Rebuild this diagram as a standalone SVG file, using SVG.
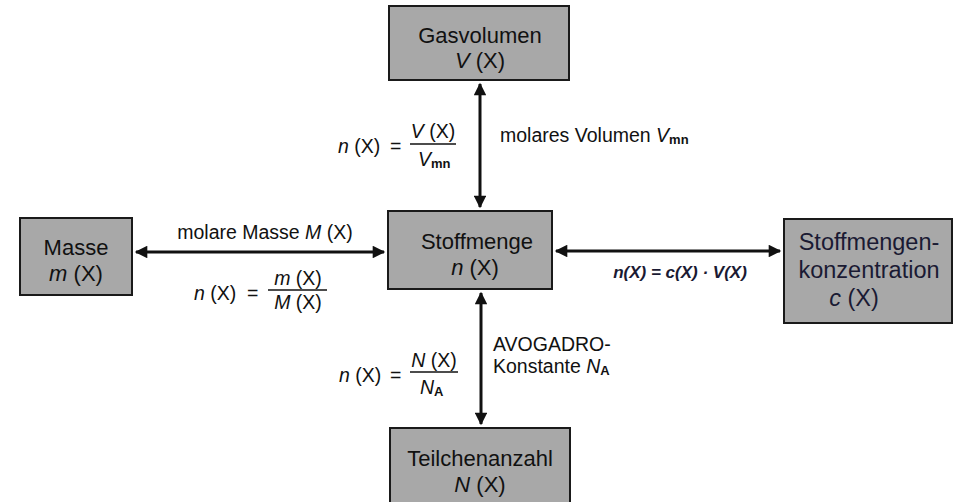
<svg xmlns="http://www.w3.org/2000/svg" width="960" height="502" viewBox="0 0 960 502">
<defs>
<style>
.box{fill:#a8a8a8;stroke:#1a1a1a;stroke-width:2}
.t{font-family:"Liberation Sans",Arial,sans-serif;font-size:22px;fill:#111;text-anchor:middle}
.k{font-size:23.5px;fill:#1a1a33}
.s{font-family:"Liberation Sans",Arial,sans-serif;font-size:19.5px;fill:#111}
.i{font-style:italic}
.sub{font-size:13px;font-weight:bold}
.ln{stroke:#111;stroke-width:3;fill:none}
.fr{stroke:#111;stroke-width:1.3}
</style>
<marker id="ah" viewBox="0 0 10 10" refX="9" refY="5" markerWidth="5.5" markerHeight="4.2" orient="auto-start-reverse" markerUnits="strokeWidth">
<path d="M0,0 L10,5 L0,10 z" fill="#111"/>
</marker>
</defs>
<rect width="960" height="502" fill="#fff"/>
<g id="gasvolumen">
<rect class="box" x="389" y="6" width="180" height="74"/>
<text class="t" x="480" y="43">Gasvolumen</text>
<text class="t" x="480" y="68"><tspan class="i">V</tspan> (X)</text>
</g>
<g id="stoffmenge">
<rect class="box" x="388" y="211" width="164" height="78"/>
<text class="t" x="477" y="249">Stoffmenge</text>
<text class="t" x="475" y="275"><tspan class="i">n</tspan> (X)</text>
</g>
<g id="masse">
<rect class="box" x="20" y="218" width="112" height="77"/>
<text class="t" x="76" y="255">Masse</text>
<text class="t" x="76" y="281"><tspan class="i">m</tspan> (X)</text>
</g>
<g id="konzentration">
<rect class="box" x="784" y="219" width="168" height="104"/>
<text class="t k" x="869" y="250">Stoffmengen-</text>
<text class="t k" x="869" y="278">konzentration</text>
<text class="t k" x="854" y="306"><tspan class="i">c</tspan> (X)</text>
</g>
<g id="teilchenanzahl">
<rect class="box" x="390" y="428" width="180" height="80"/>
<text class="t" x="480" y="466">Teilchenanzahl</text>
<text class="t" x="480" y="492"><tspan class="i">N</tspan> (X)</text>
</g>
<g id="connectors">
<line class="ln" x1="480" y1="84" x2="480" y2="207" marker-start="url(#ah)" marker-end="url(#ah)"/>
<line class="ln" x1="136" y1="252" x2="384" y2="252" marker-start="url(#ah)" marker-end="url(#ah)"/>
<line class="ln" x1="556" y1="251" x2="780" y2="251" marker-start="url(#ah)" marker-end="url(#ah)"/>
<line class="ln" x1="481" y1="293" x2="481" y2="424" marker-start="url(#ah)" marker-end="url(#ah)"/>
</g>
<g id="labels">
<text class="s" x="338" y="153"><tspan class="i">n</tspan> (X)</text>
<text class="s" x="390" y="153">=</text>
<text class="s" x="433" y="138" text-anchor="middle"><tspan class="i">V</tspan> (X)</text>
<line class="fr" x1="410" y1="144" x2="456" y2="144"/>
<text class="s" x="418" y="166"><tspan class="i">V</tspan><tspan class="sub" dy="2">mn</tspan></text>
<text class="s" x="500" y="142">molares Volumen <tspan class="i">V</tspan><tspan class="sub" dy="2">mn</tspan></text>

<text class="s" x="265" y="239" text-anchor="middle">molare Masse <tspan class="i">M</tspan> (X)</text>
<text class="s" x="194" y="300"><tspan class="i">n</tspan> (X)</text>
<text class="s" x="247" y="300">=</text>
<text class="s" x="298" y="285" text-anchor="middle"><tspan class="i">m</tspan> (X)</text>
<line class="fr" x1="268" y1="290" x2="327" y2="290"/>
<text class="s" x="298" y="309" text-anchor="middle"><tspan class="i">M</tspan> (X)</text>

<text class="s" x="680" y="278" text-anchor="middle" style="font-weight:bold;font-style:italic;font-size:17px;fill:#1a1a33">n(X) = c(X) · V(X)</text>

<text class="s" x="493" y="351">AVOGADRO-</text>
<text class="s" x="493" y="373">Konstante <tspan class="i">N</tspan><tspan class="sub" dy="2">A</tspan></text>
<text class="s" x="339" y="382"><tspan class="i">n</tspan> (X)</text>
<text class="s" x="390" y="382">=</text>
<text class="s" x="434" y="367" text-anchor="middle"><tspan class="i">N</tspan> (X)</text>
<line class="fr" x1="410" y1="372" x2="458" y2="372"/>
<text class="s" x="420" y="394"><tspan class="i">N</tspan><tspan class="sub" dy="2">A</tspan></text>
</g>
</svg>
